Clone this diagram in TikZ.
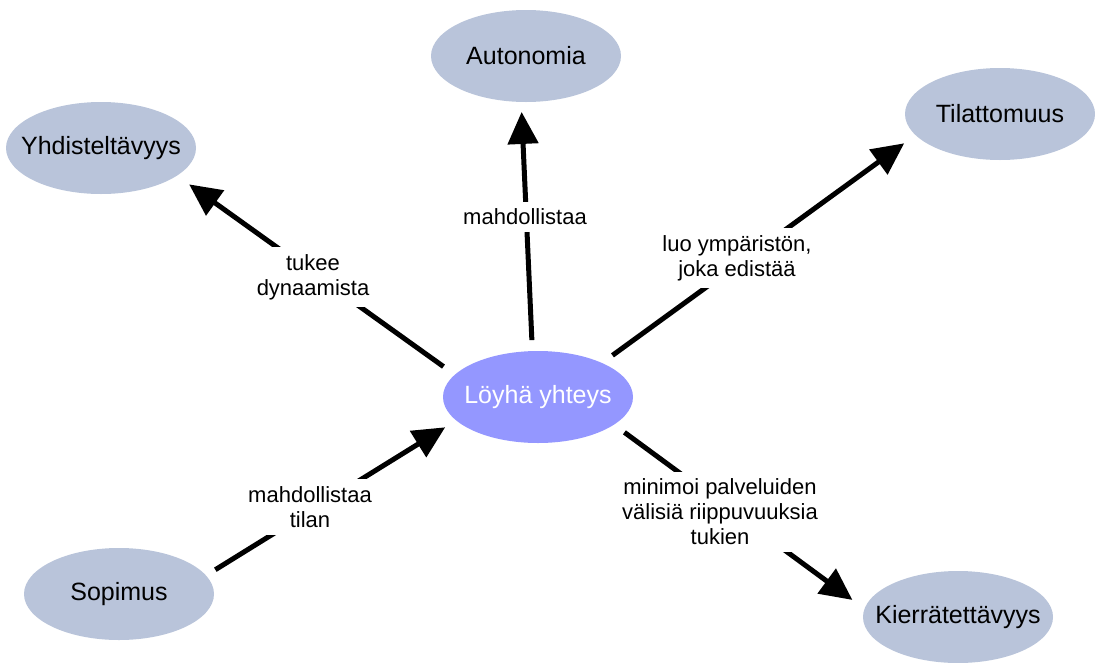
\documentclass[tikz,border=0pt]{standalone}
\usepackage{fontspec}
\setmainfont{Liberation Sans}
\usetikzlibrary{shapes.geometric,arrows.meta}
\definecolor{conceptfill}{HTML}{B9C4DA}
\definecolor{corefill}{HTML}{9497FF}
\begin{document}
\begin{tikzpicture}[x=1pt,y=-1pt,
  concept/.style={ellipse, fill=conceptfill, draw=none, minimum width=190pt,
    minimum height=92pt, inner xsep=-30pt, inner ysep=0pt, outer sep=0pt,
    font=\fontsize{25}{30}\selectfont},
  core/.style={concept, fill=corefill, text=white},
  link/.style={line width=5pt, -{Triangle[length=32pt,width=30pt]}},
  linklabel/.style={fill=white, align=center, inner sep=7pt,
    font=\fontsize{22}{25}\selectfont}
]
\useasboundingbox (0,0) rectangle (1095,662);

% concepts
\node[core]    (lo) at (538,397) {Löyhä yhteys};
\node[concept] (au) at (526,56)  {Autonomia};
\node[concept] (yh) at (101,148) {Yhdisteltävyys};
\node[concept] (ti) at (1000,114) {Tilattomuus};
\node[concept] (so) at (119,594) {Sopimus};
\node[concept] (ki) at (958,617) {Kierrätettävyys};

% relations
\draw[link, shorten <=14pt, shorten >=15pt] (lo.165) -- (yh.340);
\draw[link, shorten <=11pt, shorten >=10pt] (lo.97)  -- (au.264);
\draw[link, shorten <=13pt, shorten >=14pt] (lo.28)  -- (ti.194);
\draw[link, shorten <=11pt, shorten >=13pt] (so.12)  -- (lo.196);
\draw[link, shorten <=13pt, shorten >=15pt] (lo.340) -- (ki.175);

% relation labels
\node[linklabel] (l1) at (313,277) {tukee\\dynaamista};
\node[linklabel] (l2) at (525,217) {mahdollistaa};
\node[linklabel] (l3) at (737,258) {luo ympäristön,\\joka edistää};
\node[linklabel] (l4) at (310,507) {mahdollistaa\\tilan};
\node[linklabel] (l5) at (720,512) {minimoi palveluiden\\välisiä riippuvuuksia\\tukien};
\end{tikzpicture}
\end{document}
